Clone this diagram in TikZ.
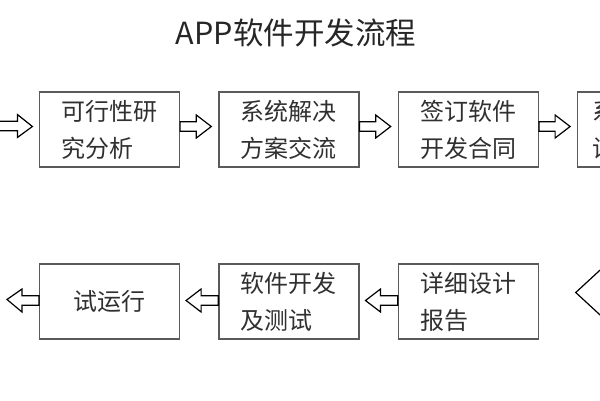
\documentclass[tikz,border=0pt]{standalone}
\usepackage{fontspec}
\setmainfont{Noto Sans CJK SC}
\usetikzlibrary{positioning,calc,shapes.geometric}

\definecolor{boxline}{HTML}{5A5A5A}
\definecolor{boxtext}{HTML}{303030}

\tikzset{
  stepbox/.style={draw=boxline, line width=1.2pt, minimum width=140pt, minimum height=75pt,
    inner sep=0pt, text=boxtext, font=\fontsize{24}{37}\selectfont, align=left, text width=96pt},
  blockarrow/.style={draw=black, fill=white, line width=1.2pt, line join=miter,
    to path={let \p1=(\tikztostart), \p2=(\tikztotarget), \n1={sign(\x2-\x1)*15} in
      (\x1,\y1+4.8pt) -- ({\x2-(\n1)*1pt},\y1+4.8pt) -- ({\x2-(\n1)*1pt},\y1+11.5pt) -- (\x2,\y2)
      -- ({\x2-(\n1)*1pt},\y1-11.5pt) -- ({\x2-(\n1)*1pt},\y1-4.8pt) -- (\x1,\y1-4.8pt) -- cycle}},
}

\begin{document}
\begin{tikzpicture}[x=1pt,y=-1pt]
\useasboundingbox (0,0) rectangle (600,400);
\clip (0,0) rectangle (600,400);

\node[text=black!85, font=\fontsize{30.5}{36}\selectfont] (title) at (296,33) {APP软件开发流程};

% first row
\node[stepbox](s1) at (109.5,129.5) {可行性研\\究分析};
\node[stepbox, right=38.2pt of s1](s2) {系统解决\\方案交流};
\node[stepbox, right=38.2pt of s2](s3) {签订软件\\开发合同};
\node[stepbox, right=38.2pt of s3, text width=110pt](s4) {系\\设};
\coordinate (s0) at (-30,126);

% second row
\node[stepbox, below=95.8pt of s1, align=center](t1) {试运行};
\node[stepbox, right=38.2pt of t1](t2) {软件开发\\及测试};
\node[stepbox, right=38.2pt of t2](t3) {详细设计\\报告};
\node[diamond, draw=black, line width=1.2pt, minimum width=130pt, minimum height=120pt,
  anchor=west] (t4) at ([xshift=36pt,yshift=9pt]t3.east) {};
\coordinate (t0) at (7,299.5);

% arrows
\draw[blockarrow] (s0) to ([xshift=-6.5pt,yshift=3pt]s1.west);
\draw[blockarrow] ([yshift=3pt]s1.east) to ([xshift=-7pt,yshift=3pt]s2.west);
\draw[blockarrow] ([yshift=3pt]s2.east) to ([xshift=-7pt,yshift=3pt]s3.west);
\draw[blockarrow] ([yshift=3pt]s3.east) to ([xshift=-7pt,yshift=3pt]s4.west);
\draw[blockarrow] ([yshift=1pt]t1.west) to (t0);
\draw[blockarrow] ([yshift=1pt]t2.west) to ([xshift=6pt,yshift=1pt]t1.east);
\draw[blockarrow] ([yshift=1pt]t3.west) to ([xshift=6pt,yshift=1pt]t2.east);
\end{tikzpicture}
\end{document}
